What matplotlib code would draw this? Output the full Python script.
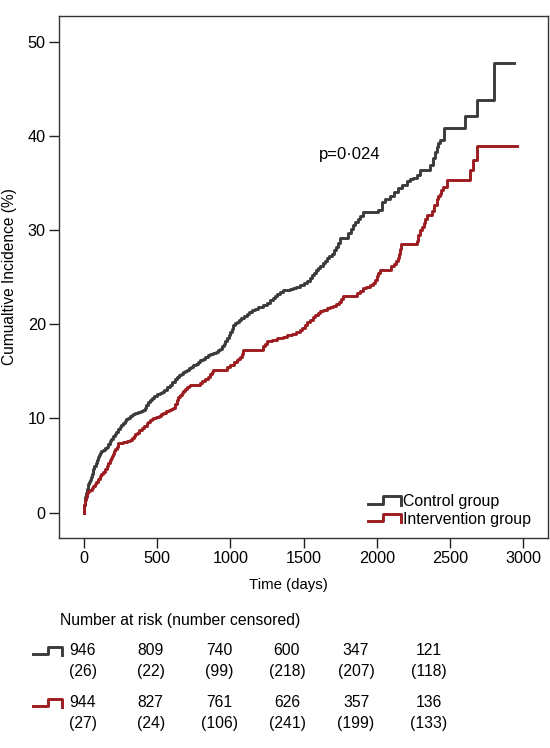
import numpy as np
import matplotlib
matplotlib.use("Agg")
import matplotlib.pyplot as plt
from matplotlib.legend_handler import HandlerBase
from matplotlib.lines import Line2D

plt.rcParams['font.family'] = ['Liberation Sans', 'DejaVu Sans']

# cumulative incidence (%) step data
control_t = [0, 3, 7, 12, 20, 27, 34, 41, 48, 55, 64, 72, 80, 88, 95, 102, 109, 120, 130,
             142, 155, 165, 175, 188, 200, 210, 220, 232, 245, 256, 268, 280, 290, 302,
             315, 326, 337, 352, 370, 388, 405, 415, 425, 438, 451, 465, 480, 500, 519,
             535, 550, 568, 587, 605, 622, 636, 650, 662, 675, 688, 701, 715, 730, 748,
             765, 779, 792, 812, 830, 845, 861, 880, 900, 915, 929, 942, 955, 965, 975,
             988, 1000, 1010, 1020, 1032, 1045, 1060, 1075, 1093, 1111, 1130, 1150, 1170,
             1190, 1220, 1248, 1270, 1290, 1305, 1320, 1340, 1360, 1385, 1410, 1430, 1450,
             1475, 1500, 1522, 1544, 1557, 1570, 1585, 1600, 1615, 1630, 1645, 1660, 1676,
             1692, 1706, 1720, 1735, 1749, 1806, 1823, 1840, 1855, 1870, 1888, 1908, 2010,
             2033, 2060, 2090, 2118, 2147, 2175, 2204, 2228, 2250, 2272, 2295, 2363, 2386,
             2398, 2409, 2420, 2432, 2461, 2606, 2682, 2800, 2940]
control_v = [0, 0.8, 1.7, 2.1, 2.5, 3.0, 3.3, 3.5, 3.8, 4.1, 4.6, 5.0, 5.3, 5.6, 5.9, 6.1,
             6.3, 6.5, 6.7, 6.85, 7.0, 7.3, 7.6, 7.85, 8.1, 8.35, 8.6, 8.85, 9.1, 9.3,
             9.5, 9.7, 9.9, 10.1, 10.25, 10.35, 10.45, 10.55, 10.65, 10.75, 10.85, 11.1,
             11.4, 11.7, 12.0, 12.2, 12.4, 12.55, 12.7, 12.85, 13.0, 13.3, 13.6, 13.9,
             14.2, 14.45, 14.6, 14.75, 14.9, 15.05, 15.2, 15.35, 15.5, 15.65, 15.8, 16.0,
             16.2, 16.35, 16.5, 16.7, 16.9, 17.0, 17.1, 17.25, 17.4, 17.65, 17.9, 18.2,
             18.5, 18.85, 19.2, 19.55, 19.9, 20.1, 20.3, 20.5, 20.7, 20.9, 21.1, 21.3,
             21.5, 21.65, 21.8, 22.05, 22.3, 22.55, 22.8, 23.0, 23.2, 23.4, 23.6, 23.7,
             23.8, 23.9, 24.0, 24.2, 24.4, 24.65, 24.9, 25.2, 25.5, 25.75, 26.0, 26.25,
             26.5, 26.75, 27.0, 27.25, 27.5, 27.85, 28.2, 28.7, 29.2, 29.7, 30.15, 30.6,
             30.9, 31.2, 31.55, 31.9, 32.2, 33.0, 33.3, 33.6, 34.05, 34.5, 34.85, 35.2,
             35.4, 35.6, 35.9, 36.4, 36.9, 37.7, 38.3, 38.9, 39.25, 39.6, 40.9, 42.1,
             43.8, 47.8, 47.8]

interv_t = [0, 3, 8, 12, 18, 28, 40, 52, 64, 75, 85, 97, 109, 120, 130, 142, 155, 165,
            175, 183, 190, 200, 208, 215, 224, 234, 270, 292, 314, 327, 340, 350, 360,
            378, 395, 410, 428, 440, 450, 462, 473, 490, 510, 525, 542, 560, 580, 595,
            610, 622, 633, 645, 655, 667, 678, 692, 705, 715, 724, 790, 810, 830, 845,
            860, 872, 883, 975, 1000, 1022, 1043, 1055, 1066, 1078, 1088, 1225, 1238,
            1250, 1285, 1320, 1340, 1361, 1390, 1420, 1448, 1475, 1492, 1510, 1527, 1544,
            1562, 1580, 1596, 1612, 1636, 1660, 1682, 1703, 1722, 1740, 1756, 1771, 1863,
            1885, 1908, 1930, 1954, 1976, 1988, 2000, 2011, 2022, 2101, 2118, 2135, 2145,
            2155, 2162, 2169, 2272, 2283, 2295, 2308, 2320, 2330, 2341, 2375, 2392, 2409,
            2420, 2430, 2442, 2454, 2477, 2637, 2660, 2686, 2955]
interv_v = [0, 0.8, 1.3, 1.7, 2.1, 2.25, 2.4, 2.6, 2.8, 3.05, 3.3, 3.6, 3.85, 4.1, 4.3,
            4.6, 4.9, 5.25, 5.6, 5.8, 6.0, 6.25, 6.5, 6.75, 7.0, 7.4, 7.5, 7.6, 7.75, 7.9,
            8.1, 8.3, 8.5, 8.75, 9.0, 9.25, 9.5, 9.65, 9.8, 9.95, 10.05, 10.2, 10.3,
            10.45, 10.6, 10.75, 10.9, 11.0, 11.1, 11.5, 12.0, 12.25, 12.5, 12.7, 12.9,
            13.1, 13.3, 13.45, 13.6, 13.8, 14.0, 14.2, 14.45, 14.7, 14.95, 15.2, 15.5,
            15.7, 15.95, 16.2, 16.35, 16.5, 16.9, 17.3, 17.7, 17.95, 18.2, 18.35, 18.5,
            18.6, 18.7, 18.85, 19.0, 19.2, 19.4, 19.65, 19.9, 20.2, 20.5, 20.75, 21.0,
            21.2, 21.4, 21.55, 21.7, 21.8, 21.9, 22.15, 22.4, 22.7, 23.0, 23.3, 23.55,
            23.85, 24.0, 24.2, 24.4, 24.75, 25.1, 25.45, 25.8, 26.2, 26.45, 26.7, 27.1,
            27.5, 28.0, 28.5, 28.9, 29.45, 30.0, 30.4, 30.8, 31.2, 31.6, 32.0, 32.65,
            33.3, 33.6, 33.9, 34.25, 34.6, 35.35, 36.4, 37.5, 39.0, 39.0]

groups = ["Control group", "Intervention group"]
at_risk_control = [946, 809, 740, 600, 347, 121]
censored_control = [26, 22, 99, 218, 207, 118]
at_risk_interv = [944, 827, 761, 626, 357, 136]
censored_interv = [27, 24, 106, 241, 199, 133]

col_dark = '#3b3b3b'
col_red = '#9c1c20'


class StepHandler(HandlerBase):
    def create_artists(self, legend, orig_handle, xdescent, ydescent,
                       width, height, fontsize, trans):
        xs = np.array([0, 0.45, 0.45, 1, 1]) * width - xdescent
        ys = np.array([0.2, 0.2, 0.9, 0.9, 0.1]) * height - ydescent
        ln = Line2D(xs, ys, color=orig_handle.get_color(),
                    lw=orig_handle.get_linewidth(), transform=trans)
        return [ln]


fig = plt.figure(figsize=(5.5, 7.48), dpi=100)
ax = fig.add_axes([59 / 550, 1 - 538 / 748, 489 / 550, 522.3 / 748])

l1, = ax.step(control_t, control_v, where='post', color=col_dark, lw=2.1)
l2, = ax.step(interv_t, interv_v, where='post', color=col_red, lw=2.1)

ax.set_xlim(-170, 3170)
ax.set_ylim(-2.7, 52.8)
ax.set_xticks([0, 500, 1000, 1500, 2000, 2500, 3000])
ax.set_yticks([0, 10, 20, 30, 40, 50])
ax.tick_params(length=7.5, width=1, labelsize=11.7, pad=2, color='#222222')
for s in ax.spines.values():
    s.set_linewidth(1)
    s.set_color('#333333')

ax.set_xlabel("Time (days)", fontsize=10.8)
ax.xaxis.set_label_coords((288 - 59) / 489, (538 - 578) / 522.3)
ax.set_ylabel("Cumualtive Incidence (%)", fontsize=11.2)
ax.yaxis.set_label_coords((17 - 59) / 489, 0.5)

ax.text(1817, 38.0, "p=0\u00b7024", ha='center', va='center', fontsize=12)

ax.legend([l1, l2], groups, handler_map={l1: StepHandler(), l2: StepHandler()},
          loc='lower right', bbox_to_anchor=((531 - 59) / 489, 0.022),
          frameon=False, fontsize=11.4, handlelength=2.1, handletextpad=0.1,
          labelspacing=0.15, borderpad=0, borderaxespad=0)

# number at risk table
fig.text(60 / 550, 1 - 620 / 748, "Number at risk (number censored)",
         fontsize=11.3, ha='left', va='center')
col_x = [82.5, 150.8, 219, 287, 356, 429]
rows = [(at_risk_control, censored_control, col_dark, 650.7),
        (at_risk_interv, censored_interv, col_red, 702.7)]
for risk, cens, c, yy in rows:
    for xx, n, k in zip(col_x, risk, cens):
        fig.text(xx / 550, 1 - yy / 748, str(n), fontsize=11.3, ha='center', va='center')
        fig.text(xx / 550, 1 - (yy + 21) / 748, "(%d)" % k, fontsize=11.3,
                 ha='center', va='center')
    ix = np.array([33, 48, 48, 61.5, 61.5]) / 550
    iy = 1 - (yy + np.array([3, 3, -3.5, -3.5, 4])) / 748
    fig.add_artist(Line2D(ix, iy, color=c, lw=2.1, transform=fig.transFigure))

fig.savefig("out.png", dpi=100)
